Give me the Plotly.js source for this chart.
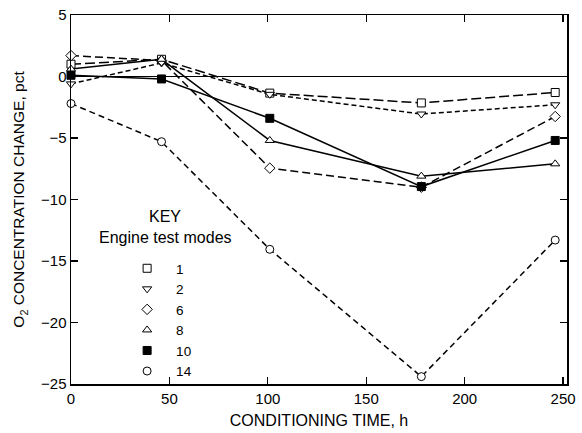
<!DOCTYPE html>
<html><head><meta charset="utf-8">
<script src="https://cdn.plot.ly/plotly-3.0.1.min.js"></script>
<style>html,body{margin:0;padding:0;background:#fff}</style>
</head><body>
<div id="chart" style="width:582px;height:433px"></div>
<script>
const hours = [0, 46, 101, 178, 246];
const mode1 = [1.0, 1.4, -1.35, -2.15, -1.3];
const mode2 = [-0.6, 1.1, -1.45, -3.05, -2.3];
const mode6 = [1.7, 1.3, -7.45, -9.0, -3.25];
const mode8 = [0.6, 1.4, -5.2, -8.1, -7.1];
const mode10 = [0.1, -0.2, -3.4, -8.95, -5.2];
const mode14 = [-2.2, -5.3, -14.05, -24.4, -13.3];
const modeNames = ['1', '2', '6', '8', '10', '14'];
const xTicks = [0, 50, 100, 150, 200, 250];
const yTicks = [-25, -20, -15, -10, -5, 0, 5];

const series = [
  {y: mode1, sym: 'square', dash: '10px,4px', fill: 'white'},
  {y: mode2, sym: 'triangle-down', dash: '5px,3px', fill: 'white'},
  {y: mode6, sym: 'diamond', dash: '8px,4px', fill: 'white'},
  {y: mode8, sym: 'triangle-up', dash: 'solid', fill: 'white'},
  {y: mode10, sym: 'square', dash: 'solid', fill: 'black'},
  {y: mode14, sym: 'circle', dash: '6px,4px', fill: 'white'}
];

const traces = [];
series.forEach((s, i) => {
  traces.push({
    x: hours, y: s.y, mode: 'lines+markers', showlegend: false,
    line: {color: 'black', width: 1.5, dash: s.dash},
    marker: {symbol: s.sym, size: 8, color: s.fill, line: {color: 'black', width: 1}},
    cliponaxis: false
  });
});
series.forEach((s, i) => {
  traces.push({
    x: [null], y: [null], mode: 'markers', name: modeNames[i], showlegend: true,
    marker: {symbol: s.sym, size: 8, color: s.fill, line: {color: 'black', width: 1}}
  });
});

const axisCommon = {
  showgrid: false, ticks: 'inside', ticklen: 7, tickwidth: 1.2, tickcolor: 'black',
  showline: true, linecolor: 'black', linewidth: 1.5, mirror: 'ticks',
  tickfont: {family: 'Liberation Sans, Arial, sans-serif', size: 15, color: 'black'}
};

const layout = {
  width: 582, height: 433,
  margin: {l: 71, r: 15, t: 15, b: 49},
  paper_bgcolor: 'white', plot_bgcolor: 'white',
  font: {family: 'Liberation Sans, Arial, sans-serif', color: 'black'},
  xaxis: Object.assign({}, axisCommon, {
    range: [0, 252], tickvals: xTicks, zeroline: false,
    title: {text: 'CONDITIONING TIME, h', font: {size: 16}, standoff: 9}
  }),
  yaxis: Object.assign({}, axisCommon, {
    range: [-25, 5], tickvals: yTicks, zeroline: true, zerolinecolor: 'black', zerolinewidth: 1,
    title: {text: 'O<sub>2</sub> CONCENTRATION CHANGE, pct', font: {size: 15.5}, standoff: 12}
  }),
  legend: {
    x: 0.095, y: 0.355, xanchor: 'left', yanchor: 'top',
    font: {size: 13.5}, bgcolor: 'rgba(0,0,0,0)', borderwidth: 0,
    itemwidth: 48, tracegroupgap: 0
  },
  annotations: [
    {text: 'KEY', xref: 'paper', yref: 'paper', x: 0.19, y: 0.453, showarrow: false,
     font: {size: 16}, xanchor: 'center', yanchor: 'middle'},
    {text: 'Engine test modes', xref: 'paper', yref: 'paper', x: 0.19, y: 0.396, showarrow: false,
     font: {size: 16}, xanchor: 'center', yanchor: 'middle'}
  ]
};

Plotly.newPlot('chart', traces, layout, {staticPlot: true, displayModeBar: false});
</script>
</body></html>
